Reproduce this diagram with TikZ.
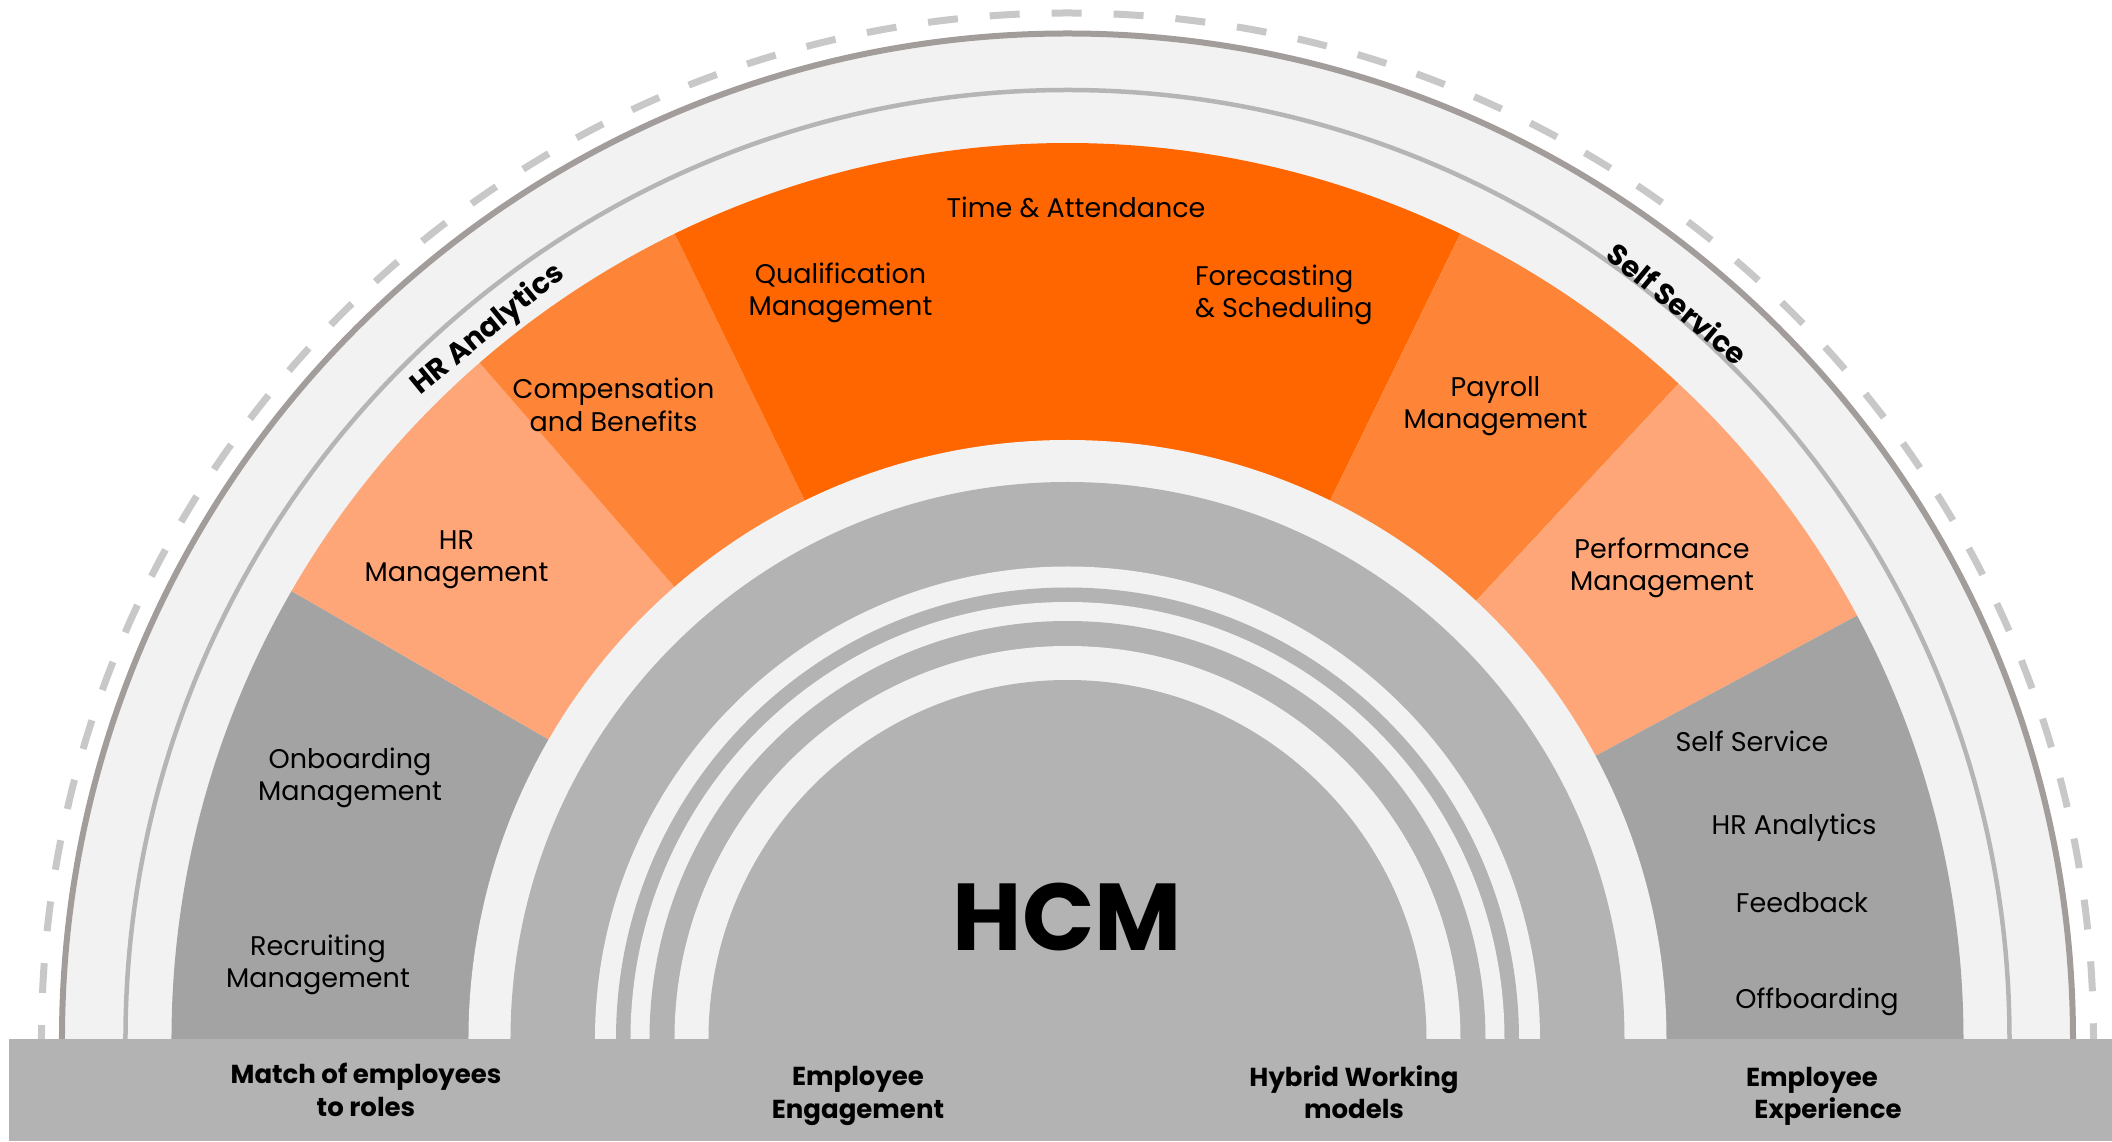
\documentclass[tikz,border=0pt]{standalone}
\usepackage{fontspec}
\setmainfont{Poppins}
\begin{document}
\begin{tikzpicture}[x=1pt,y=1pt,
  lbl/.style={font=\fontsize{27}{32.3}\selectfont, align=center, text=black, inner sep=0pt},
  bot/.style={font=\bfseries\fontsize{26}{32.3}\selectfont, align=center, text=black, inner sep=0pt},
  arclbl/.style={font=\bfseries\fontsize{29}{32}\selectfont, text=black, inner sep=0pt},
  hcmlbl/.style={font=\bfseries\fontsize{95}{100}\selectfont, text=black, inner sep=0pt},
]
\definecolor{lightbg}{HTML}{F2F2F2}
\definecolor{darkarc}{HTML}{A29D9A}
\definecolor{thinarc}{HTML}{B5B5B5}
\definecolor{dashc}{HTML}{C8C8C8}
\definecolor{orA}{HTML}{FF6600}
\definecolor{orB}{HTML}{FE8537}
\definecolor{orC}{HTML}{FFA678}
\definecolor{segGray}{HTML}{A3A3A3}
\definecolor{diskGray}{HTML}{B3B3B3}

\useasboundingbox (-1067.5,-102) rectangle (1044.5,1039);

% outer dashed arc
\draw[dashc, line width=7pt, dash pattern=on 30pt off 32pt, dash phase=16pt]
  (180:1026pt) arc[start angle=180, end angle=0, radius=1026pt];
% light background with dark rim
\fill[lightbg] (180:1005.5pt) arc[start angle=180, end angle=0, radius=1005.5pt] -- cycle;
\draw[darkarc, line width=6pt] (180:1005.5pt) arc[start angle=180, end angle=0, radius=1005.5pt];
% thin inner line
\draw[thinarc, line width=4.5pt] (-942pt,0pt) arc[start angle=180, end angle=0, x radius=942pt, y radius=949pt];

% segments
\fill[segGray] (0,0) -- (180:896pt) arc[start angle=180, end angle=150, radius=896pt] -- cycle;
\fill[orC]     (0,0) -- (150:896pt) arc[start angle=150, end angle=131, radius=896pt] -- cycle;
\fill[orB]     (0,0) -- (131:896pt) arc[start angle=131, end angle=116, radius=896pt] -- cycle;
\fill[orA]     (0,0) -- (116:896pt) arc[start angle=116, end angle=64,  radius=896pt] -- cycle;
\fill[orB]     (0,0) -- (64:896pt)  arc[start angle=64,  end angle=47,  radius=896pt] -- cycle;
\fill[orC]     (0,0) -- (47:896pt)  arc[start angle=47,  end angle=28.2,radius=896pt] -- cycle;
\fill[segGray] (0,0) -- (28.2:896pt) arc[start angle=28.2, end angle=0, radius=896pt] -- cycle;

% inner rings
\fill[lightbg]  (180:599pt)   arc[start angle=180, end angle=0, radius=599pt]   -- cycle;
\fill[diskGray] (180:557pt)   arc[start angle=180, end angle=0, radius=557pt]   -- cycle;
\fill[lightbg]  (180:472.5pt) arc[start angle=180, end angle=0, radius=472.5pt] -- cycle;
\fill[diskGray] (180:451.5pt) arc[start angle=180, end angle=0, radius=451.5pt] -- cycle;
\fill[lightbg]  (180:437pt)   arc[start angle=180, end angle=0, radius=437pt]   -- cycle;
\fill[diskGray] (180:418pt)   arc[start angle=180, end angle=0, radius=418pt]   -- cycle;
\fill[lightbg]  (180:393pt)   arc[start angle=180, end angle=0, radius=393pt]   -- cycle;
\fill[diskGray] (180:359pt)   arc[start angle=180, end angle=0, radius=359pt]   -- cycle;

% bottom band
\fill[diskGray] (-1058.5,-102) rectangle (1044.5,0);

% segment labels
\node[lbl] (ta)  at (8.5,831.6) {Time \& Attendance};
\node[lbl] (qm)  at (-227,746.5) {Qualification\\Management};
\node[lbl, align=left, anchor=west] (fs) at (127.3,744) {Forecasting\\\& Scheduling};
\node[lbl] (cb)  at (-454,634) {Compensation\\and Benefits};
\node[lbl] (hrm) at (-611,479) {HR\\Management};
\node[lbl] (pm)  at (428,633) {Payroll\\Management};
\node[lbl] (pfm) at (594.5,471) {Performance\\Management};
\node[lbl] (om)  at (-717.5,261) {Onboarding\\Management};
\node[lbl] (rm)  at (-749.5,74) {Recruiting\\Management};
\node[lbl] (ss)  at (684.5,298) {Self Service};
\node[lbl] (hra) at (726.5,211) {HR Analytics};
\node[lbl] (fb)  at (734.5,136.5) {Feedback};
\node[lbl] (ob)  at (749.5,37) {Offboarding};

% centre
\node[hcmlbl] (hcm) at (0,122) {HCM};

% curved labels
\node[arclbl, rotate=39.3]  (hran) at (129.26:915.7pt) {HR Analytics};
\node[arclbl, rotate=-39.7] (ssv)  at (50.3:956pt) {Self Service};

% bottom labels
\node[bot] (b1) at (-701.5,-51) {Match of employees\\to roles};
\node[bot] (b2) at (-209.5,-57) {Employee\\Engagement};
\node[bot] (b3) at (286.5,-53) {Hybrid Working\\models};
\node[bot] (b4) at (744.5,-57) {Employee\\\hspace*{32pt}Experience};
\end{tikzpicture}
\end{document}
